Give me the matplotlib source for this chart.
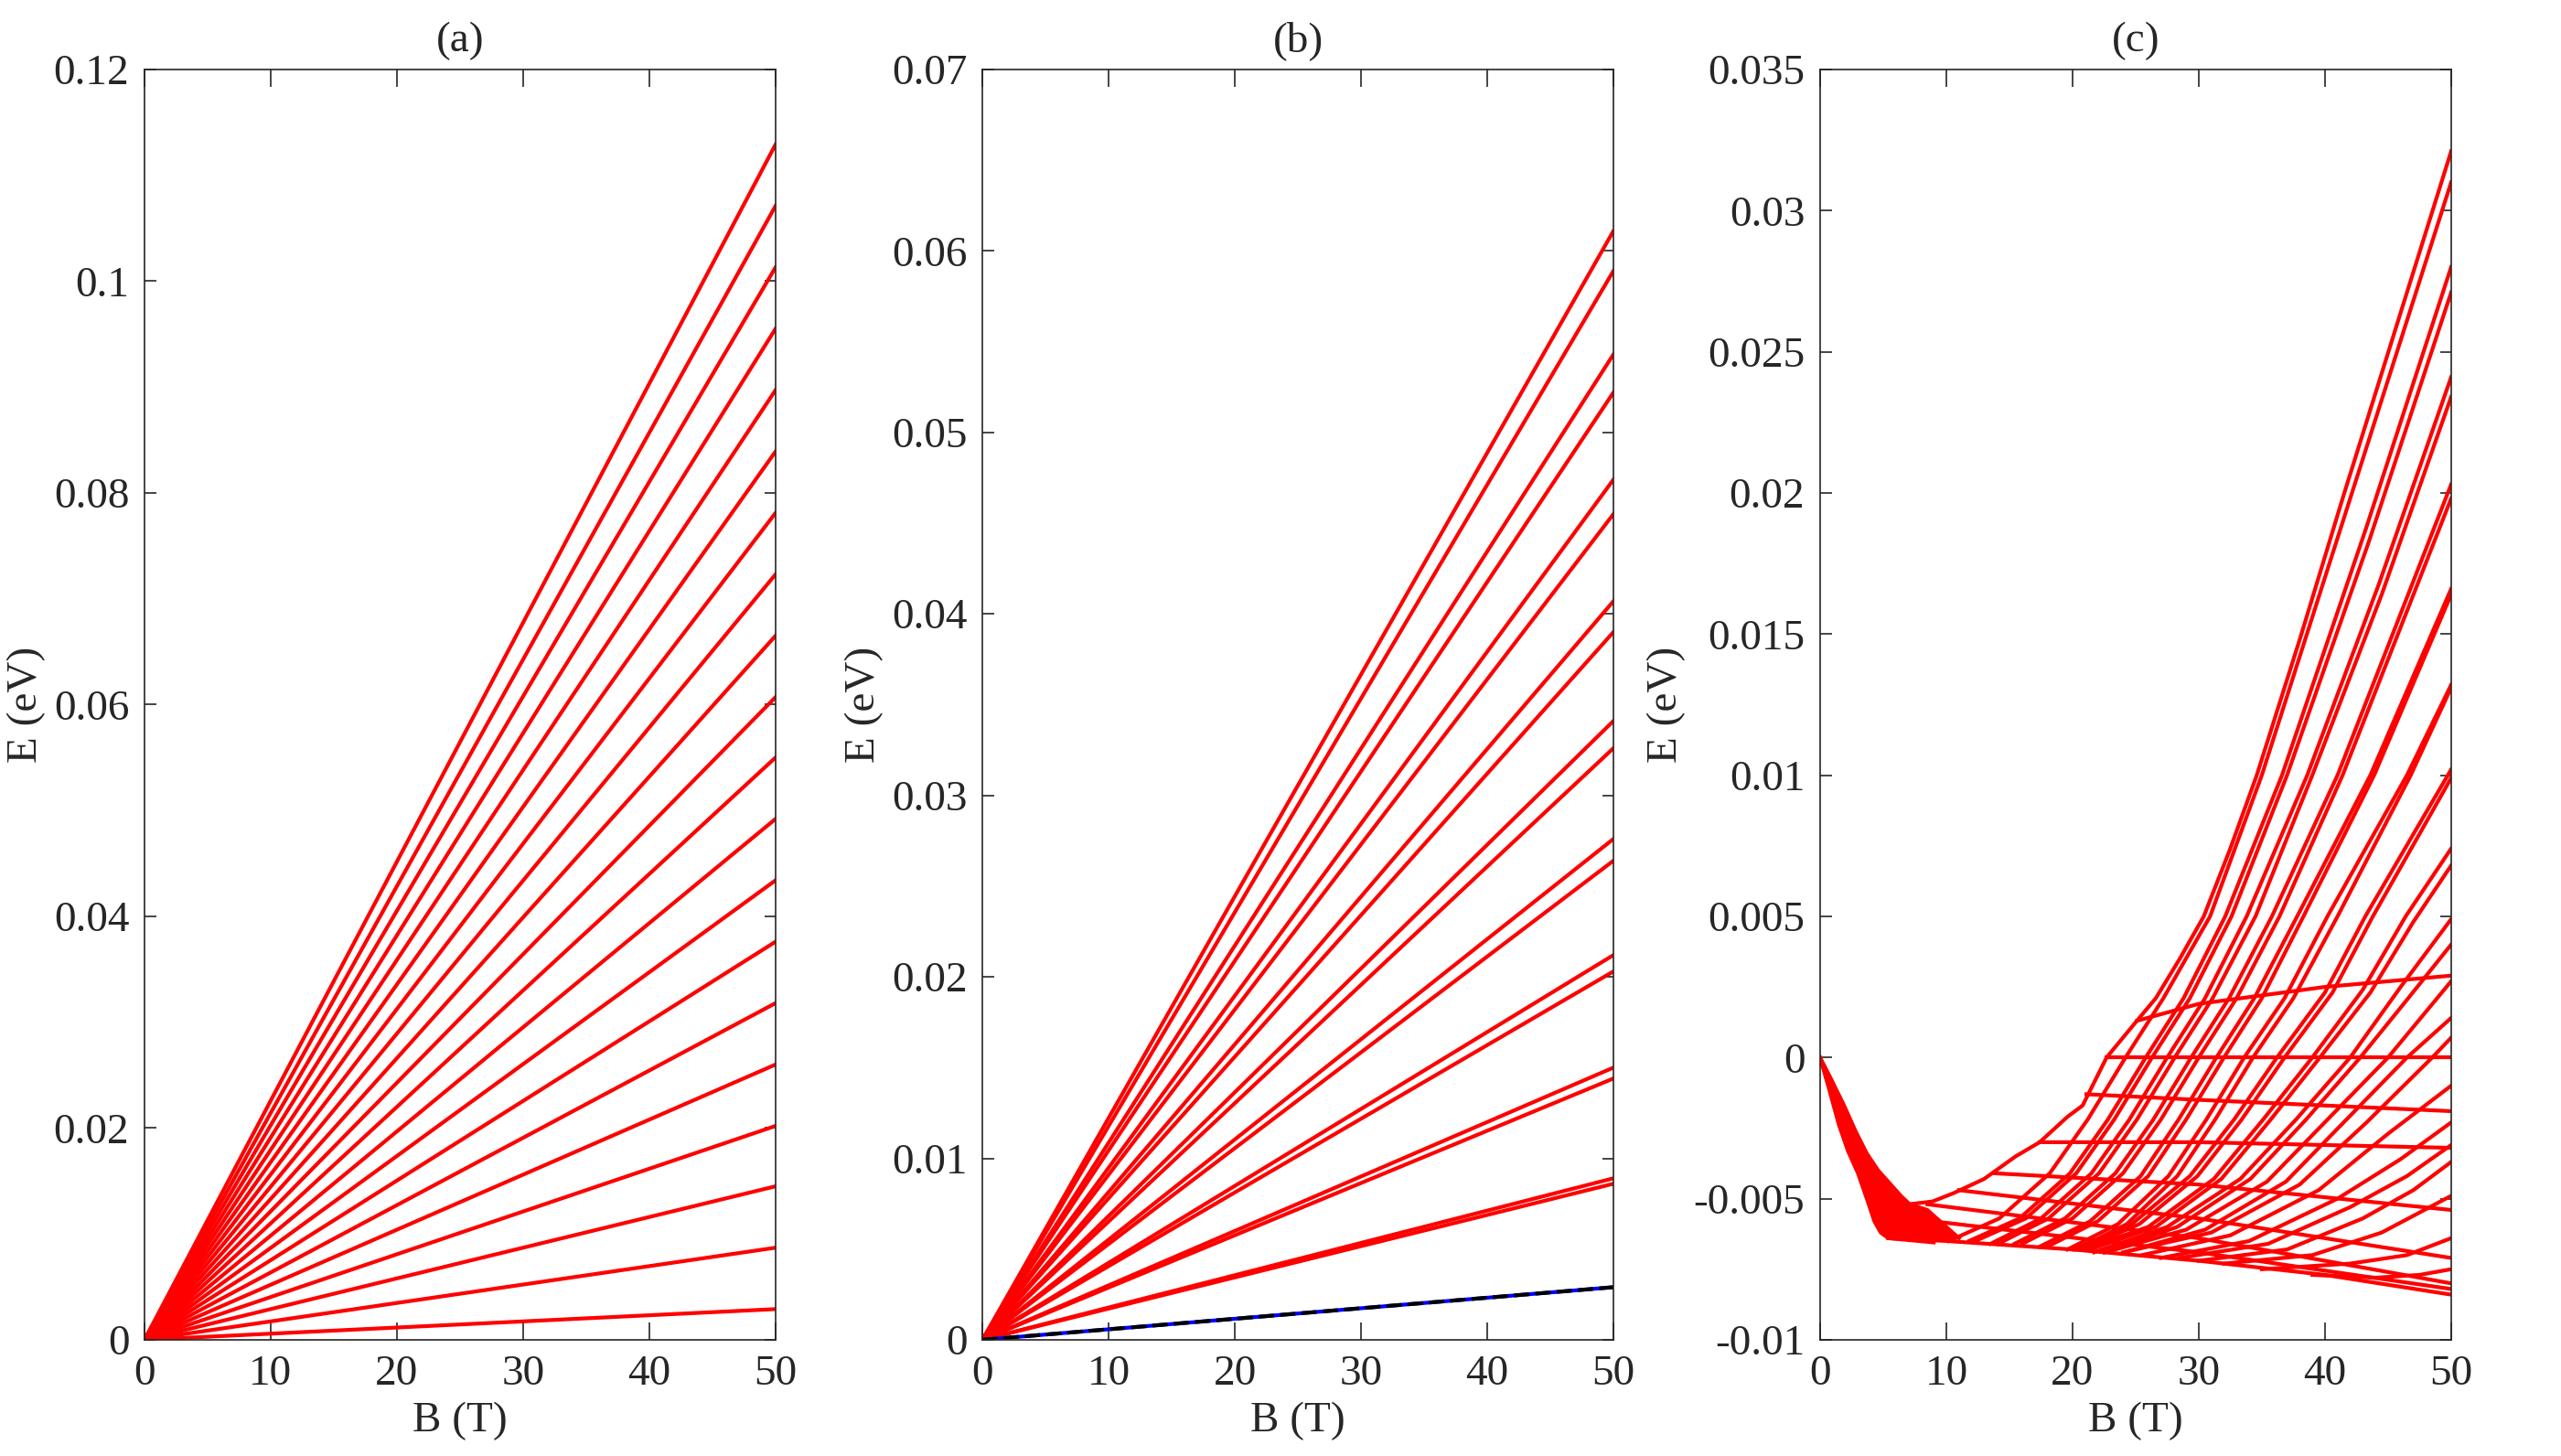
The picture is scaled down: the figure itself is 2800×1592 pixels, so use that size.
import matplotlib.pyplot as plt

plt.rcParams['font.family'] = ['Liberation Serif', 'DejaVu Serif']
plt.rcParams['font.size'] = 17
plt.rcParams['text.color'] = '#262626'
plt.rcParams['axes.labelcolor'] = '#262626'
plt.rcParams['xtick.color'] = '#262626'
plt.rcParams['ytick.color'] = '#262626'

RED = '#ff0000'
LW = 1.5

# field range, all levels start at E = 0 for B = 0
B_ends = [0, 50]
B_ticks = [0, 10, 20, 30, 40, 50]

# (a) energies at B = 50 T
a_E_end = [0.0029, 0.0087, 0.0145, 0.0202, 0.0260, 0.0318, 0.0376, 0.0434,
           0.0492, 0.0550, 0.0607, 0.0665, 0.0723, 0.0781, 0.0839, 0.0897,
           0.0955, 0.1013, 0.1071, 0.1129]
a_yticks = [0, 0.02, 0.04, 0.06, 0.08, 0.1, 0.12]
a_ylabels = ['0', '0.02', '0.04', '0.06', '0.08', '0.1', '0.12']

# (b) energies at B = 50 T (spin split pairs), lowest level drawn blue / black dashed
b_E_end = [0.0611, 0.0589, 0.0543, 0.0522, 0.0474, 0.0455, 0.0407, 0.0390,
           0.0341, 0.0326, 0.0276, 0.0264, 0.0212, 0.0203, 0.0150, 0.0144,
           0.0089, 0.0086]
b_E_low = 0.0029
b_yticks = [0, 0.01, 0.02, 0.03, 0.04, 0.05, 0.06, 0.07]
b_ylabels = ['0', '0.01', '0.02', '0.03', '0.04', '0.05', '0.06', '0.07']

# (c) dense low-field wedge (upper and lower edge)
c_wedge_top_B = [0, 0.8, 1.9, 2.8, 3.7, 4.6, 5.6, 6.4, 7.1, 8.5, 10.0, 11.0]
c_wedge_top_E = [0, -0.0007, -0.0017, -0.0026, -0.0034, -0.0040, -0.0045, -0.0049,
                 -0.0052, -0.0054, -0.0060, -0.0064]
c_wedge_bot_B = [0, 0.7, 1.5, 2.2, 3.0, 3.7, 4.3, 4.8, 5.4, 9.0]
c_wedge_bot_E = [0, -0.0011, -0.0024, -0.0033, -0.0041, -0.0050, -0.0058, -0.0062,
                 -0.0064, -0.00655]

# (c) rising levels (B list, E list)
c_rising = [
    ([7.0, 8.9, 10.6, 13.0, 15.5, 17.4, 19.6, 20.8, 22.7, 25.1, 26.6, 28.5, 30.4, 32.5, 34.6,
      38.0, 41.4, 45.8, 50],
     [-0.0052, -0.0051, -0.0048, -0.0043, -0.0035, -0.0030, -0.0021, -0.0017, 0.0, 0.0013,
      0.0021, 0.0035, 0.0050, 0.0074, 0.0100, 0.0148, 0.0198, 0.0261, 0.0321]),
    ([10.2, 14.2, 18.2, 21.2, 24.2, 27.2, 30.9, 35.0, 42.5, 50],
     [-0.0065, -0.0057, -0.0041, -0.0022, 0.0, 0.0021, 0.0050, 0.0100, 0.0205, 0.0310]),
    ([11.8, 15.8, 19.8, 22.8, 25.8, 28.8, 32.1, 36.6, 43.3, 50],
     [-0.0065, -0.0057, -0.0041, -0.0022, 0.0, 0.0021, 0.0050, 0.0100, 0.0188, 0.0280]),
    ([12.3, 16.3, 20.3, 23.3, 26.3, 29.3, 32.6, 37.0, 43.5, 50],
     [-0.0065, -0.0057, -0.0041, -0.0022, 0.0, 0.0021, 0.0050, 0.0100, 0.0183, 0.0271]),
    ([13.5, 17.5, 21.5, 24.5, 27.5, 30.5, 33.8, 38.6, 44.3, 50],
     [-0.0066, -0.0057, -0.0041, -0.0022, 0.0, 0.0021, 0.0050, 0.0100, 0.0168, 0.0241]),
    ([14.1, 18.1, 22.1, 25.1, 28.1, 31.1, 34.5, 39.0, 44.5, 50],
     [-0.0066, -0.0057, -0.0041, -0.0022, 0.0, 0.0021, 0.0050, 0.0100, 0.0164, 0.0234]),
    ([15.4, 19.4, 23.4, 26.4, 29.4, 32.4, 35.8, 41.0, 50],
     [-0.0066, -0.0057, -0.0041, -0.0022, 0.0, 0.0021, 0.0050, 0.0100, 0.0203]),
    ([16.0, 20.0, 24.0, 27.0, 30.0, 33.0, 36.4, 41.4, 50],
     [-0.0066, -0.0057, -0.0041, -0.0022, 0.0, 0.0021, 0.0050, 0.0100, 0.0198]),
    ([17.4, 21.4, 25.4, 28.4, 31.4, 34.4, 37.8, 43.6, 50],
     [-0.0067, -0.0058, -0.0042, -0.0022, 0.0, 0.0021, 0.0050, 0.0100, 0.0166]),
    ([18.0, 22.0, 26.0, 29.0, 32.0, 35.0, 38.3, 43.9, 50],
     [-0.0067, -0.0058, -0.0042, -0.0022, 0.0, 0.0021, 0.0050, 0.0100, 0.0164]),
    ([19.6, 23.6, 27.6, 30.6, 33.6, 36.8, 40.2, 46.5, 50],
     [-0.0068, -0.0059, -0.0042, -0.0022, 0.0, 0.0021, 0.0050, 0.0100, 0.0132]),
    ([20.3, 24.3, 28.3, 31.3, 34.3, 37.5, 41.0, 46.8, 50],
     [-0.0068, -0.0059, -0.0042, -0.0022, 0.0, 0.0021, 0.0050, 0.0100, 0.0131]),
    ([20.1, 24.7, 29.3, 32.8, 36.2, 40.0, 43.2, 50],
     [-0.0068, -0.0059, -0.0042, -0.0022, 0.0, 0.0023, 0.0050, 0.0102]),
    ([20.7, 25.3, 29.9, 33.4, 36.8, 40.6, 43.8, 50],
     [-0.0068, -0.0059, -0.0042, -0.0022, 0.0, 0.0023, 0.0050, 0.0099]),
    ([20.8, 26.0, 31.2, 35.1, 39.0, 43.0, 46.4, 50],
     [-0.0068, -0.0060, -0.0043, -0.0022, 0.0, 0.0024, 0.0050, 0.0074]),
    ([21.4, 26.6, 31.8, 35.7, 39.6, 43.6, 47.0, 50],
     [-0.0068, -0.0060, -0.0043, -0.0022, 0.0, 0.0023, 0.0048, 0.0068]),
    ([21.7, 27.5, 33.3, 37.7, 42.0, 46.0, 50],
     [-0.0069, -0.0060, -0.0043, -0.0022, 0.0, 0.0025, 0.0049]),
    ([22.5, 28.3, 34.1, 38.5, 42.8, 46.6, 50],
     [-0.0069, -0.0060, -0.0043, -0.0022, 0.0, 0.0021, 0.0040]),
    ([22.6, 29.0, 35.4, 40.2, 45.0, 50],
     [-0.0069, -0.0061, -0.0044, -0.0022, 0.0, 0.0027]),
    ([24.1, 30.5, 36.9, 41.7, 46.5, 50],
     [-0.0069, -0.0061, -0.0044, -0.0022, 0.0, 0.0014]),
    ([24.0, 31.0, 38.0, 43.3, 48.5, 50],
     [-0.0069, -0.0062, -0.0045, -0.0023, 0.0, 0.0007]),
    ([25.5, 32.5, 39.5, 45.0, 50],
     [-0.0070, -0.0063, -0.0047, -0.0027, -0.0010]),
    ([27.0, 34.0, 41.0, 46.0, 50],
     [-0.0071, -0.0065, -0.0050, -0.0036, -0.0023]),
    ([28.5, 35.5, 42.0, 46.5, 50],
     [-0.0071, -0.0066, -0.0053, -0.0042, -0.0031]),
    ([30.0, 37.0, 43.0, 47.0, 50],
     [-0.0072, -0.0068, -0.0057, -0.0047, -0.0037]),
    ([32.0, 39.0, 44.5, 50],
     [-0.0073, -0.0070, -0.0062, -0.0049]),
    ([35.0, 42.0, 46.5, 50],
     [-0.0075, -0.0073, -0.0070, -0.0064]),
    ([39.0, 44.0, 47.5, 50],
     [-0.0077, -0.0078, -0.0077, -0.0075]),
]

# (c) nearly flat plateaus that branch off the upper edge
c_flat = [
    ([25.1, 30, 40, 50], [0.0013, 0.0019, 0.0025, 0.0029]),
    ([22.7, 50], [0.0, 0.0]),
    ([21.1, 30, 40, 50], [-0.0013, -0.0015, -0.0017, -0.0019]),
    ([17.4, 30, 40, 50], [-0.0030, -0.0030, -0.0031, -0.0032]),
]

# (c) slowly falling levels, last one is the ground state
c_falling = [
    ([13.8, 30, 50], [-0.0041, -0.0045, -0.0054]),
    ([11.0, 30, 50], [-0.0047, -0.0057, -0.0071]),
    ([8.5, 30, 50], [-0.0052, -0.0064, -0.0080]),
    ([7.0, 30, 50], [-0.0057, -0.0069, -0.0082]),
    ([5.4, 10, 20, 30, 40, 50], [-0.0064, -0.0065, -0.0068, -0.0072, -0.0077, -0.0084]),
]
c_yticks = [-0.01, -0.005, 0, 0.005, 0.01, 0.015, 0.02, 0.025, 0.03, 0.035]
c_ylabels = ['-0.01', '-0.005', '0', '0.005', '0.01', '0.015', '0.02', '0.025', '0.03', '0.035']


fig = plt.figure(figsize=(14, 7.96), dpi=200)
lefts = [0.0564, 0.3836, 0.7107]
axes = [fig.add_axes([l, 0.0798, 0.2464, 0.8725]) for l in lefts]


def style(ax, ylim, yticks, ylabels, title):
    ax.set_xlim(0, 50)
    ax.set_ylim(*ylim)
    ax.set_xticks(B_ticks)
    ax.set_yticks(yticks)
    ax.set_yticklabels(ylabels)
    ax.tick_params(direction='in', top=True, right=True, width=0.6, labelsize=17, pad=6)
    ax.tick_params(axis='x', length=7)
    ax.tick_params(axis='y', length=4.5)
    for s in ax.spines.values():
        s.set_linewidth(0.6)
        s.set_color('#262626')
    ax.set_xlabel('B (T)', labelpad=3)
    ax.set_ylabel('E (eV)', labelpad=3)
    ax.set_title(title, pad=7, fontsize=17)


# (a)
ax = axes[0]
for e in a_E_end:
    ax.plot(B_ends, [0, e], color=RED, lw=LW)
style(ax, (0, 0.12), a_yticks, a_ylabels, '(a)')

# (b)
ax = axes[1]
for e in b_E_end:
    ax.plot(B_ends, [0, e], color=RED, lw=LW)
ax.plot(B_ends, [0, b_E_low], color='blue', lw=LW)
ax.plot(B_ends, [0, b_E_low], color='black', lw=LW, dashes=(4, 1.6))
style(ax, (0, 0.07), b_yticks, b_ylabels, '(b)')

# (c)
ax = axes[2]
ax.fill(c_wedge_top_B + c_wedge_bot_B[::-1], c_wedge_top_E + c_wedge_bot_E[::-1],
        color=RED, lw=0)
ax.plot(c_wedge_top_B, c_wedge_top_E, color=RED, lw=LW)
ax.plot(c_wedge_bot_B, c_wedge_bot_E, color=RED, lw=LW)
for fam in (c_falling, c_flat, c_rising):
    for bb, ee in fam:
        ax.plot(bb, ee, color=RED, lw=LW, solid_joinstyle='round')
style(ax, (-0.01, 0.035), c_yticks, c_ylabels, '(c)')

fig.savefig('out.png', dpi=200)
